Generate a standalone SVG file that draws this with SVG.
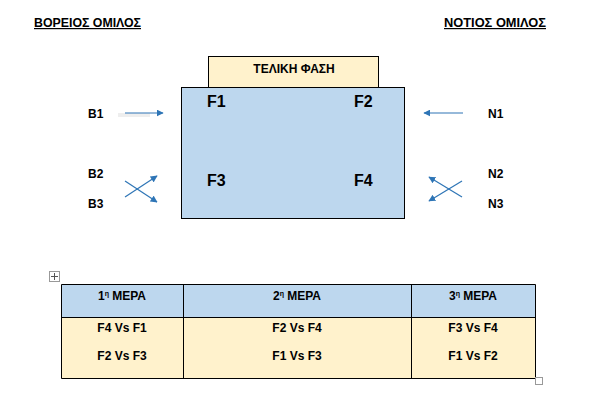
<svg xmlns="http://www.w3.org/2000/svg" width="603" height="419" viewBox="0 0 603 419">
<defs>
<style>
text{font-family:"Liberation Sans","Noto Sans",sans-serif;font-weight:bold;fill:#000}
.h{font-size:12px;text-decoration:underline}
.f{font-size:16px}
.l{font-size:12px}
.t{font-size:12px;text-anchor:middle}
.c{stroke:#2e75b6;stroke-width:1.2;fill:none}
</style>
<marker id="ah" viewBox="0 0 10 10" refX="9" refY="5" markerWidth="7" markerHeight="7" orient="auto" markerUnits="userSpaceOnUse">
<path d="M0,0 L10,5 L0,10 z" fill="#2e75b6"/>
</marker>
</defs>
<rect width="603" height="419" fill="#fff"/>
<text class="h" x="34" y="27" textLength="107" lengthAdjust="spacingAndGlyphs">ΒΟΡΕΙΟΣ ΟΜΙΛΟΣ</text>
<text class="h" x="444" y="27" textLength="102" lengthAdjust="spacingAndGlyphs">ΝΟΤΙΟΣ ΟΜΙΛΟΣ</text>
<g id="final">
<rect x="208.5" y="56.5" width="170" height="31" fill="#fff2cc" stroke="#000"/>
<text x="294" y="73" class="t">ΤΕΛΙΚΗ ΦΑΣΗ</text>
</g>
<g id="group">
<rect x="181.5" y="87.5" width="223" height="131" fill="#bdd7ee" stroke="#000"/>
<text class="f" x="207" y="107">F1</text>
<text class="f" x="354" y="107">F2</text>
<text class="f" x="207" y="186">F3</text>
<text class="f" x="354" y="186">F4</text>
</g>
<g id="labels">
<text class="l" x="88" y="118">B1</text>
<text class="l" x="88" y="178">B2</text>
<text class="l" x="88" y="208">B3</text>
<text class="l" x="488" y="118">N1</text>
<text class="l" x="488" y="178">N2</text>
<text class="l" x="488" y="208">N3</text>
</g>
<g id="connectors">
<line x1="118" y1="115" x2="150" y2="115" stroke="#eeeeee" stroke-width="4"/>
<line class="c" x1="125" y1="113" x2="163" y2="113" marker-end="url(#ah)"/>
<line class="c" x1="125" y1="181" x2="157" y2="202" marker-end="url(#ah)"/>
<line class="c" x1="125" y1="197" x2="157" y2="176" marker-end="url(#ah)"/>
<line class="c" x1="463" y1="113" x2="424" y2="113" marker-end="url(#ah)"/>
<line class="c" x1="462" y1="181" x2="429" y2="201" marker-end="url(#ah)"/>
<line class="c" x1="462" y1="197" x2="429" y2="177" marker-end="url(#ah)"/>
</g>
<g id="table">
<rect x="49.5" y="271.5" width="10" height="10" fill="#fff" stroke="#999"/>
<path d="M54.5,273 v7 M51,276.5 h7" stroke="#555" stroke-width="1"/>
<rect x="61.5" y="284.5" width="474" height="33" fill="#bdd7ee"/>
<rect x="61.5" y="317.5" width="474" height="61" fill="#fff2cc"/>
<path d="M61.5,284.5 H535.5 V378.5 H61.5 Z M61.5,317.5 H535.5 M183.5,284.5 V378.5 M411.5,284.5 V378.5" fill="none" stroke="#000"/>
<rect x="535.5" y="377.5" width="7" height="7" fill="#fff" stroke="#999"/>
<text class="t" x="122" y="300">1<tspan font-size="7" dy="-4">η</tspan><tspan dy="4"> ΜΕΡΑ</tspan></text>
<text class="t" x="297" y="300">2<tspan font-size="7" dy="-4">η</tspan><tspan dy="4"> ΜΕΡΑ</tspan></text>
<text class="t" x="473" y="300">3<tspan font-size="7" dy="-4">η</tspan><tspan dy="4"> ΜΕΡΑ</tspan></text>
<text class="t" x="122" y="332">F4 Vs F1</text>
<text class="t" x="122" y="360">F2 Vs F3</text>
<text class="t" x="297" y="332">F2 Vs F4</text>
<text class="t" x="297" y="360">F1 Vs F3</text>
<text class="t" x="473" y="332">F3 Vs F4</text>
<text class="t" x="473" y="360">F1 Vs F2</text>
</g>
</svg>
